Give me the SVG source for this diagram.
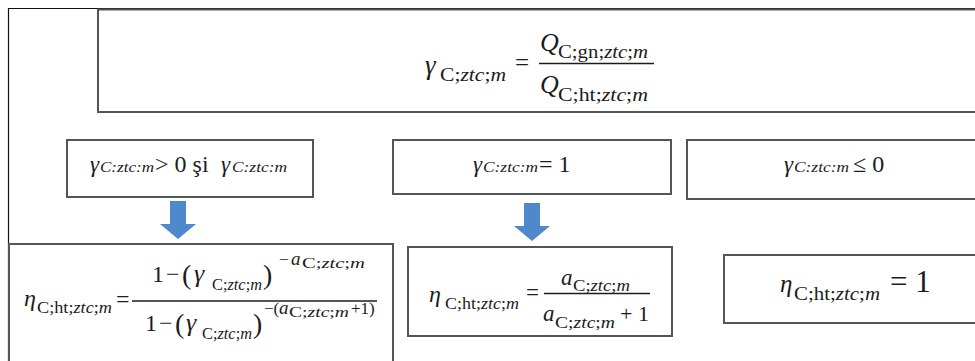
<svg xmlns="http://www.w3.org/2000/svg" width="975" height="361" viewBox="0 0 975 361">
<defs>
<style>
.frame{fill:none;stroke:#111;stroke-width:1.2}
.box{fill:#fff;stroke:#555;stroke-width:2}
.t{font-family:"Liberation Serif","DejaVu Serif",serif;fill:#1c1c1c}
.i{font-style:italic}
.bar{stroke:#1c1c1c;stroke-width:1.4}
.arrow{fill:#4F88CB}
</style>
</defs>
<rect width="975" height="361" fill="#fff"/>
<path class="frame" d="M8.5,361 V8.5 H975"/>

<g id="top">
<rect class="box" x="98" y="9.5" width="900" height="102.5"/>
<text class="t i" x="425" y="74" font-size="27">γ</text>
<text class="t" x="440" y="81" font-size="18" textLength="66" lengthAdjust="spacingAndGlyphs">C;<tspan class="i">ztc</tspan>;<tspan class="i">m</tspan></text>
<text class="t" x="515" y="71" font-size="25">=</text>
<line class="bar" x1="539" y1="63.5" x2="654" y2="63.5"/>
<text class="t i" x="540" y="51" font-size="26">Q</text>
<text class="t" x="558" y="58" font-size="18" textLength="90" lengthAdjust="spacingAndGlyphs">C;gn;<tspan class="i">ztc</tspan>;<tspan class="i">m</tspan></text>
<text class="t i" x="540" y="93" font-size="26">Q</text>
<text class="t" x="558" y="101" font-size="18" textLength="90" lengthAdjust="spacingAndGlyphs">C;ht;<tspan class="i">ztc</tspan>;<tspan class="i">m</tspan></text>
</g>

<g id="cond-positive">
<rect class="box" x="67" y="140" width="246" height="57"/>
<text class="t i" x="90" y="172" font-size="23">γ</text>
<text class="t i" x="100" y="172" font-size="15" textLength="54" lengthAdjust="spacingAndGlyphs">C:ztc:m</text>
<text class="t" x="155" y="172" font-size="24">&gt; 0 şi</text>
<text class="t i" x="221" y="172" font-size="23">γ</text>
<text class="t i" x="232" y="172" font-size="15" textLength="55" lengthAdjust="spacingAndGlyphs">C:ztc:m</text>
</g>

<g id="cond-one">
<rect class="box" x="393" y="140" width="278" height="54"/>
<text class="t i" x="473" y="172" font-size="23">γ</text>
<text class="t i" x="483" y="172" font-size="15" textLength="55" lengthAdjust="spacingAndGlyphs">C:ztc:m</text>
<text class="t" x="539" y="172" font-size="24">= 1</text>
</g>

<g id="cond-nonpositive">
<rect class="box" x="687" y="140" width="300" height="59"/>
<text class="t i" x="784" y="172" font-size="23">γ</text>
<text class="t i" x="794" y="172" font-size="15" textLength="55" lengthAdjust="spacingAndGlyphs">C:ztc:m</text>
<text class="t" x="853" y="172" font-size="24">≤ 0</text>
</g>

<g id="eta-general">
<rect class="box" x="9" y="244" width="384" height="130"/>
<text class="t i" x="24" y="306" font-size="24">η</text>
<text class="t" x="37" y="313" font-size="17" textLength="75" lengthAdjust="spacingAndGlyphs">C;ht;<tspan class="i">ztc</tspan>;<tspan class="i">m</tspan></text>
<text class="t" x="116" y="307" font-size="24">=</text>
<line class="bar" x1="132" y1="301" x2="377" y2="301"/>
<text class="t" x="152" y="282" font-size="24">1</text>
<text class="t" x="166" y="282" font-size="24">−</text>
<text class="t" x="182" y="284" font-size="28">(</text>
<text class="t i" x="194" y="282" font-size="26">γ</text>
<text class="t" x="212" y="290" font-size="17" textLength="50" lengthAdjust="spacingAndGlyphs">C;<tspan class="i">ztc</tspan>;<tspan class="i">m</tspan></text>
<text class="t" x="263" y="284" font-size="28">)</text>
<text class="t" x="279" y="265" font-size="17">−</text>
<text class="t i" x="291" y="265" font-size="19">a</text>
<text class="t" x="302" y="268" font-size="15" textLength="63" lengthAdjust="spacingAndGlyphs">C;<tspan class="i">ztc</tspan>;<tspan class="i">m</tspan></text>
<text class="t" x="145" y="331" font-size="24">1</text>
<text class="t" x="159" y="331" font-size="24">−</text>
<text class="t" x="175" y="333" font-size="28">(</text>
<text class="t i" x="186" y="331" font-size="26">γ</text>
<text class="t" x="202" y="339" font-size="17" textLength="50" lengthAdjust="spacingAndGlyphs">C;<tspan class="i">ztc</tspan>;<tspan class="i">m</tspan></text>
<text class="t" x="253" y="333" font-size="28">)</text>
<text class="t" x="264" y="314" font-size="17">−(</text>
<text class="t i" x="279" y="314" font-size="19">a</text>
<text class="t" x="289" y="317" font-size="15" textLength="60" lengthAdjust="spacingAndGlyphs">C;<tspan class="i">ztc</tspan>;<tspan class="i">m</tspan></text>
<text class="t" x="351" y="314" font-size="17">+1)</text>
</g>

<g id="eta-one">
<rect class="box" x="408" y="247" width="264" height="89"/>
<text class="t i" x="429" y="302" font-size="24">η</text>
<text class="t" x="445" y="309" font-size="17" textLength="74" lengthAdjust="spacingAndGlyphs">C;ht;<tspan class="i">ztc</tspan>;<tspan class="i">m</tspan></text>
<text class="t" x="526" y="300" font-size="23">=</text>
<line class="bar" x1="544" y1="293.5" x2="650" y2="293.5"/>
<text class="t i" x="561" y="285" font-size="23">a</text>
<text class="t" x="573" y="291" font-size="16" textLength="57" lengthAdjust="spacingAndGlyphs">C;<tspan class="i">ztc</tspan>;<tspan class="i">m</tspan></text>
<text class="t i" x="543" y="321" font-size="23">a</text>
<text class="t" x="555" y="328" font-size="16" textLength="60" lengthAdjust="spacingAndGlyphs">C;<tspan class="i">ztc</tspan>;<tspan class="i">m</tspan></text>
<text class="t" x="620" y="321" font-size="22">+ 1</text>
</g>

<g id="eta-unit">
<rect class="box" x="724" y="255" width="270" height="68"/>
<text class="t i" x="780" y="292" font-size="25">η</text>
<text class="t" x="794" y="300" font-size="18" textLength="86" lengthAdjust="spacingAndGlyphs">C;ht;<tspan class="i">ztc</tspan>;<tspan class="i">m</tspan></text>
<text class="t" x="890" y="292" font-size="31">= 1</text>
</g>

<g id="connectors">
<path class="arrow" d="M170,201 H186 V224 H196 L178,239 L160,224 H170 Z"/>
<path class="arrow" d="M524,203 H540 V226 H550 L532,241 L514,226 H524 Z"/>
</g>
</svg>
